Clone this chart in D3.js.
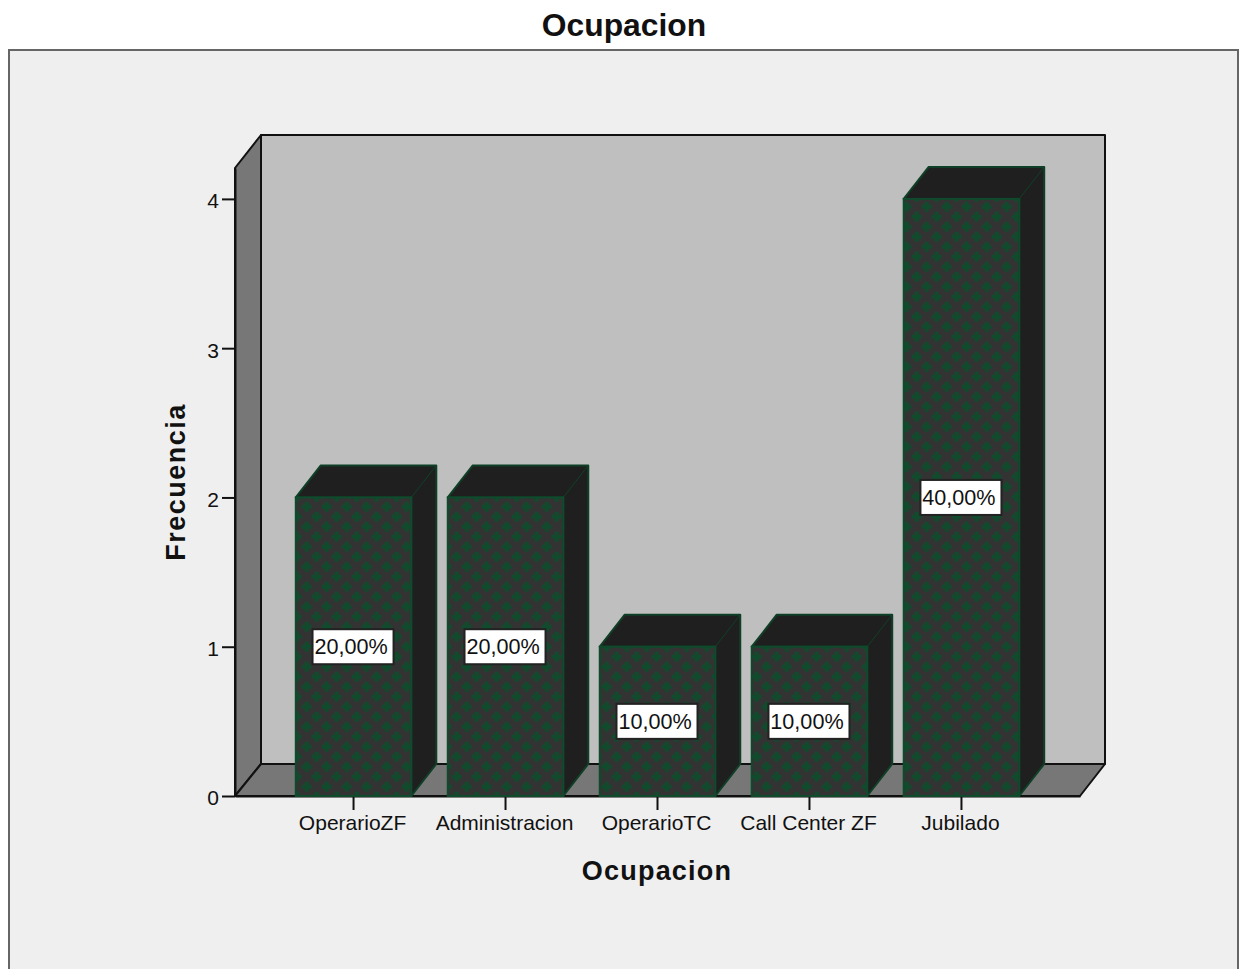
<!DOCTYPE html>
<html>
<head>
<meta charset="utf-8">
<script src="https://cdn.jsdelivr.net/npm/d3@7"></script>
<style>
body { margin: 0; background: #fff; }
text { font-family: "Liberation Sans", Arial, sans-serif; fill: #111; }
</style>
</head>
<body>
<svg class="chart" width="1245" height="969"></svg>
<script>
const categories = ["OperarioZF", "Administracion", "OperarioTC", "Call Center ZF", "Jubilado"];
const counts = [2, 2, 1, 1, 4];
const percents = ["20,00%", "20,00%", "10,00%", "10,00%", "40,00%"];
const yTicks = [0, 1, 2, 3, 4];

var margin = {top: 50, right: 7, left: 9}
var plot = {left: 235, right: 1080, top: 168, bottom: 796}
var depthX = 26, depthY = 32

var x = d3.scaleBand()
    .domain(categories)
    .range([plot.left, plot.right])
    .paddingInner(0.24)
    .paddingOuter(0.4)

var y = d3.scaleLinear()
    .domain([0, 4.207])
    .range([plot.bottom, plot.top])

var svg = d3.select(".chart")

// dotted fill of the bars
var pattern = svg.append("defs").append("pattern")
    .attr("id", "crosses")
    .attr("patternUnits", "userSpaceOnUse")
    .attr("patternTransform", "translate(1.7,1.7)")
    .attr("width", 20)
    .attr("height", 20)
pattern.append("rect").attr("width", 20).attr("height", 20).attr("fill", "#333333")
pattern.selectAll("path")
    .data([[5, 5], [15, 15]])
    .enter().append("path")
    .attr("fill", "#114a2c")
    .attr("d", d => `M${d[0]-2},${d[1]-5}h4v3h3v4h-3v3h-4v-3h-3v-4h3z`)

// frame
svg.append("rect")
    .attr("x", margin.left)
    .attr("y", margin.top)
    .attr("width", 1245 - margin.left - margin.right)
    .attr("height", 969)
    .attr("fill", "#efefef")
    .attr("stroke", "#666")
    .attr("stroke-width", 2)

svg.append("text")
    .attr("x", 624)
    .attr("y", 36)
    .attr("text-anchor", "middle")
    .attr("font-size", 31.8)
    .attr("font-weight", "bold")
    .text("Ocupacion")

// 3d box around the plot
function poly(points, fill) {
    svg.append("polygon")
        .attr("points", points.map(p => p.join(",")).join(" "))
        .attr("fill", fill)
        .attr("stroke", "#111")
        .attr("stroke-width", 2)
        .attr("stroke-linejoin", "round")
}
var l = plot.left, r = plot.right, t = plot.top, b = plot.bottom
poly([[l+depthX, t-depthY-1], [r+depthX-1, t-depthY-1], [r+depthX-1, b-depthY], [l+depthX, b-depthY]], "#bfbfbf")
poly([[l, t], [l+depthX, t-depthY-1], [l+depthX, b-depthY], [l, b]], "#777777")
poly([[l, b], [l+depthX, b-depthY], [r+depthX-1, b-depthY], [r, b]], "#777777")

// axes
var yAxis = svg.append("g")
    .attr("transform", "translate(" + plot.left + ",0)")
    .call(d3.axisLeft(y).tickValues(yTicks).tickFormat(d3.format("d")).tickSize(13).tickSizeOuter(0).tickPadding(3))
var xAxis = svg.append("g")
    .attr("transform", "translate(0," + plot.bottom + ")")
    .call(d3.axisBottom(x).tickSize(14).tickSizeOuter(0).tickPadding(5))
yAxis.selectAll("text").attr("font-size", 21).attr("dy", "0.42em").style("font-family", "Liberation Sans").attr("fill", "#111")
xAxis.selectAll("text").attr("font-size", 21).attr("dx", -1).style("font-family", "Liberation Sans").attr("fill", "#111")
svg.selectAll(".domain").attr("stroke", "#111").attr("stroke-width", 2)
svg.selectAll(".tick line").attr("stroke", "#111").attr("stroke-width", 2)

// bars
var rows = categories.map((c, i) => ({cat: c, n: counts[i], pct: percents[i]}))
var bars = svg.selectAll("g.bar")
    .data(rows)
    .enter().append("g")
    .attr("class", "bar")

bars.append("polygon")
    .attr("fill", "#1f1f1f")
    .attr("stroke", "#0f4027")
    .attr("stroke-width", 2)
    .attr("stroke-linejoin", "round")
    .attr("points", d => {
        var x0 = x(d.cat), x1 = x0 + x.bandwidth(), y1 = y(d.n)
        return [[x0, y1], [x0+depthX-1, y1-depthY], [x1+depthX-1, y1-depthY], [x1+depthX-1, y(0)-depthY], [x1, y(0)], [x1, y1]].join(" ")
    })
bars.append("line")
    .attr("stroke", "#0f4027")
    .attr("stroke-width", 1)
    .attr("x1", d => x(d.cat) + x.bandwidth())
    .attr("y1", d => y(d.n))
    .attr("x2", d => x(d.cat) + x.bandwidth() + depthX - 1)
    .attr("y2", d => y(d.n) - depthY)
bars.append("rect")
    .attr("x", d => x(d.cat))
    .attr("y", d => y(d.n))
    .attr("width", x.bandwidth())
    .attr("height", d => y(0) - y(d.n))
    .attr("fill", "url(#crosses)")
    .attr("stroke", "#0f4a2c")
    .attr("stroke-width", 2)

// percent labels
var labels = bars.append("g")
    .attr("transform", d => "translate(" + (x(d.cat) + x.bandwidth() / 2 - 1) + "," + y(d.n / 2) + ")")
labels.append("rect")
    .attr("x", -40)
    .attr("y", -17.5)
    .attr("width", 81)
    .attr("height", 35)
    .attr("fill", "#fff")
    .attr("stroke", "#222")
    .attr("stroke-width", 2)
labels.append("text")
    .attr("text-anchor", "middle")
    .attr("dx", -1.5)
    .attr("dy", "0.35em")
    .attr("font-size", 21.6)
    .text(d => d.pct)

// axis titles
svg.append("text")
    .attr("x", 657)
    .attr("y", 880)
    .attr("text-anchor", "middle")
    .attr("font-size", 27)
    .attr("font-weight", "bold")
    .style("letter-spacing", "1.2px")
    .text("Ocupacion")
svg.append("text")
    .attr("transform", "translate(185,482) rotate(-90)")
    .attr("text-anchor", "middle")
    .attr("font-size", 27)
    .attr("font-weight", "bold")
    .style("letter-spacing", "1.5px")
    .text("Frecuencia")
</script>
</body>
</html>
